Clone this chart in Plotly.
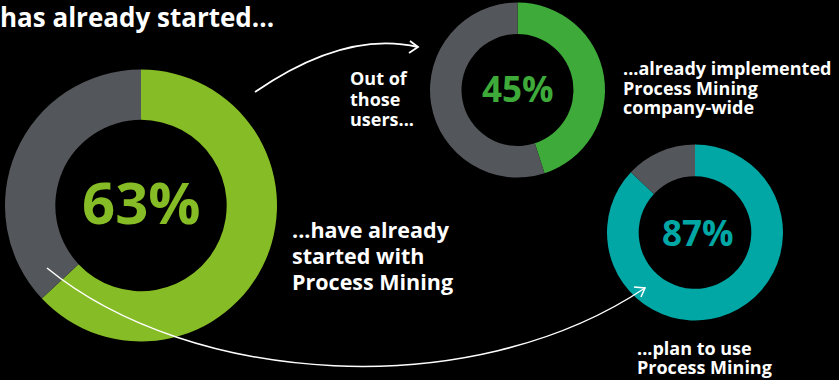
import plotly.graph_objects as go

# ---- data ----
shares = [63, 45, 87]                      # percent of each ring
share_labels = ["63%", "45%", "87%"]
ring_colors = ["#86BC25", "#3DAA3A", "#00A7A5"]
rest_color = "#53565A"
caption_big = ["...have already", "started with", "Process Mining"]
caption_impl = ["...already implemented", "Process Mining", "company-wide"]
caption_plan = ["...plan to use", "Process Mining"]
bridge_lines = ["Out of", "those", "users..."]
title_text = "has already started..."

W, H = 839, 380
FONT = "Open Sans"

# ring geometry (pixel centre, outer radius, hole)
rings = [
    dict(cx=141, cy=205.5, r=136, hole=0.63),
    dict(cx=517.5, cy=90, r=87.5, hole=0.64),
    dict(cx=695, cy=232.5, r=88, hole=0.64),
]

fig = go.Figure()
for val, col, g in zip(shares, ring_colors, rings):
    fig.add_trace(go.Pie(
        values=[val, 100 - val],
        labels=["yes", "no"],
        marker=dict(colors=[col, rest_color], line=dict(width=0)),
        hole=g["hole"],
        sort=False,
        direction="clockwise",
        rotation=0,
        textinfo="none",
        hoverinfo="skip",
        showlegend=False,
        domain=dict(
            x=[(g["cx"] - g["r"]) / W, (g["cx"] + g["r"]) / W],
            y=[1 - (g["cy"] + g["r"]) / H, 1 - (g["cy"] - g["r"]) / H],
        ),
    ))

annotations = []
# centre percentages
pct_sizes = [58, 35, 35]
pct_offsets = [(0, -4), (0, -2), (3, 0)]
for lab, col, g, fs, (dx, dy) in zip(share_labels, ring_colors, rings, pct_sizes, pct_offsets):
    annotations.append(dict(
        x=g["cx"] + dx, y=g["cy"] + dy, xref="x", yref="y",
        text=lab, showarrow=False, xanchor="center", yanchor="middle",
        font=dict(family=FONT, size=fs, color=col, weight="bold"),
    ))

# text blocks: (lines, left x, top y, line step, glyph size)
# line step = 1.3 * base font size, glyphs enlarged via span style
blocks = [
    (caption_big, 290, 213, 26, 21.5),
    (caption_impl, 621, 54, 19.5, 18),
    (caption_plan, 635, 334, 18.5, 18),
    (bridge_lines, 348, 64, 20.5, 18),
]
for lines, x, y0, step, fs in blocks:
    base = step / 1.3
    text = "<br>".join(f"<span style='font-size:{fs}px'>{ln}</span>" for ln in lines)
    annotations.append(dict(
        x=x, y=y0, xref="x", yref="y", text=text, showarrow=False,
        xanchor="left", yanchor="top", align="left",
        font=dict(family=FONT, size=base, color="white", weight="bold"),
    ))

annotations.append(dict(
    x=0, y=1, xref="paper", yref="paper", text=title_text, showarrow=False,
    xanchor="left", yanchor="top", align="left", xshift=-2, yshift=3,
    font=dict(family=FONT, size=26, color="white", weight="bold"),
))

# connector arrows
shapes = [
    dict(type="path", xref="x", yref="y",
         path="M 255,92 Q 345,30 418,47",
         line=dict(color="white", width=1.8)),
    dict(type="path", xref="x", yref="y",
         path="M 410,41 L 418,47 L 409,53",
         line=dict(color="white", width=1.8)),
    dict(type="path", xref="x", yref="y",
         path="M 47,268 C 190,385 470,405 645,288",
         line=dict(color="white", width=1.5)),
    dict(type="path", xref="x", yref="y",
         path="M 634,287 L 645,288 L 641,297",
         line=dict(color="white", width=1.5)),
]

fig.update_layout(
    width=W, height=H,
    margin=dict(l=0, r=0, t=0, b=0),
    paper_bgcolor="black", plot_bgcolor="black",
    xaxis=dict(range=[0, W], visible=False, domain=[0, 1], fixedrange=True),
    yaxis=dict(range=[H, 0], visible=False, domain=[0, 1], fixedrange=True),
    annotations=annotations,
    shapes=shapes,
    showlegend=False,
)

fig.write_html("out.html")
